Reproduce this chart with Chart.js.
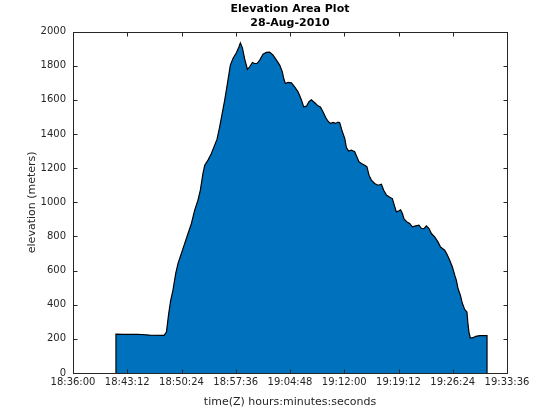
<!DOCTYPE html>
<html>
<head>
<meta charset="utf-8">
<script src="https://cdn.jsdelivr.net/npm/chart.js@4.4.0/dist/chart.umd.min.js"></script>
<style>
  body { margin: 0; background: #fff; }
</style>
</head>
<body>
<canvas id="areaChart" width="560" height="420"></canvas>
<script>
// time stamps (Z) and elevation in meters
const times = [
  "18:41:42", "18:41:42", "18:42:38", "18:44:35", "18:46:11", "18:48:05", "18:48:24", "18:48:42",
  "18:48:58", "18:49:16", "18:49:38", "18:49:56", "18:50:23", "18:50:49", "18:51:16", "18:51:43",
  "18:52:09", "18:52:35", "18:52:54", "18:53:15", "18:53:29", "18:53:55", "18:54:22", "18:54:48",
  "18:55:07", "18:55:28", "18:56:08", "18:56:34", "18:56:53", "18:57:14", "18:57:41", "18:58:02",
  "18:58:13", "18:58:29", "18:58:47", "18:59:09", "18:59:27", "18:59:49", "19:00:07", "19:00:25",
  "19:00:47", "19:01:13", "19:01:40", "19:02:06", "19:02:33", "19:03:00", "19:03:26", "19:03:47",
  "19:03:58", "19:04:11", "19:04:32", "19:04:59", "19:05:25", "19:05:52", "19:06:19", "19:06:37",
  "19:06:59", "19:07:19", "19:07:38", "19:08:05", "19:08:31", "19:08:50", "19:09:11", "19:09:32",
  "19:09:51", "19:10:10", "19:10:30", "19:10:52", "19:11:10", "19:11:24", "19:11:45", "19:12:04",
  "19:12:17", "19:12:35", "19:12:57", "19:13:23", "19:13:41", "19:13:57", "19:14:17", "19:14:43",
  "19:15:01", "19:15:17", "19:15:36", "19:16:02", "19:16:29", "19:16:56", "19:17:14", "19:17:36",
  "19:18:02", "19:18:23", "19:18:42", "19:18:55", "19:19:16", "19:19:29", "19:19:43", "19:19:56",
  "19:20:20", "19:20:41", "19:21:03", "19:21:29", "19:21:55", "19:22:14", "19:22:35", "19:22:54",
  "19:23:15", "19:23:34", "19:24:00", "19:24:26", "19:24:46", "19:25:20", "19:25:38", "19:26:00",
  "19:26:21", "19:26:40", "19:26:53", "19:27:06", "19:27:25", "19:27:41", "19:27:59", "19:28:17",
  "19:28:25", "19:28:33", "19:28:44", "19:29:05", "19:29:27", "19:29:59", "19:30:57", "19:30:57"
];
const elevation = [
  0, 228, 226, 227, 222, 220, 240, 348,
  426, 485, 583, 641, 700, 758, 817, 876,
  954, 1012, 1071, 1169, 1217, 1247, 1286, 1335,
  1370, 1442, 1599, 1716, 1804, 1843, 1876, 1911,
  1934, 1905, 1840, 1778, 1794, 1819, 1813, 1813,
  1833, 1868, 1878, 1880, 1862, 1833, 1804, 1764,
  1725, 1696, 1702, 1700, 1676, 1647, 1599, 1559,
  1563, 1589, 1601, 1583, 1565, 1559, 1530, 1497,
  1475, 1462, 1468, 1462, 1470, 1466, 1413, 1374,
  1321, 1300, 1306, 1296, 1266, 1237, 1227, 1217,
  1208, 1159, 1130, 1110, 1100, 1106, 1071, 1042,
  1030, 1022, 975, 944, 950, 956, 934, 902,
  885, 876, 856, 862, 866, 848, 846, 862,
  846, 817, 797, 768, 739, 719, 696, 660,
  621, 573, 543, 495, 455, 407, 372, 358,
  290, 240, 205, 207, 215, 219, 219, 0
];
const xTicks = ["18:36:00", "18:43:12", "18:50:24", "18:57:36", "19:04:48", "19:12:00", "19:19:12", "19:26:24", "19:33:36"];
const yTicks = [0, 200, 400, 600, 800, 1000, 1200, 1400, 1600, 1800, 2000];

function toSec(t) {
  const [h, m, s] = t.split(":").map(Number);
  return h * 3600 + m * 60 + s;
}
function toClock(v) {
  const pad = (n) => String(n).padStart(2, "0");
  return pad(Math.floor(v / 3600)) + ":" + pad(Math.floor((v % 3600) / 60)) + ":" + pad(v % 60);
}

const points = times.map((t, i) => ({ x: toSec(t), y: elevation[i] }));

// MATLAB style box with inward ticks on all four sides
const boxPlugin = {
  id: "box",
  afterDraw(chart) {
    const { ctx, chartArea: a, scales: { x, y } } = chart;
    const L = Math.round(a.left) + 0.5, R = Math.round(a.right) + 0.5;
    const T = Math.round(a.top) + 0.5, B = Math.round(a.bottom) + 0.5;
    ctx.save();
    ctx.strokeStyle = "#262626";
    ctx.lineWidth = 1;
    ctx.beginPath();
    x.ticks.forEach((t) => {
      const px = Math.round(x.getPixelForValue(t.value)) + 0.5;
      ctx.moveTo(px, B); ctx.lineTo(px, B - 4);
      ctx.moveTo(px, T); ctx.lineTo(px, T + 4);
    });
    y.ticks.forEach((t) => {
      const py = Math.round(y.getPixelForValue(t.value)) + 0.5;
      ctx.moveTo(L, py); ctx.lineTo(L + 4, py);
      ctx.moveTo(R, py); ctx.lineTo(R - 4, py);
    });
    ctx.stroke();
    ctx.strokeRect(L, T, R - L, B - T);
    ctx.restore();
  }
};

const tickFont = { family: "DejaVu Sans", size: 10 };

new Chart(document.getElementById("areaChart"), {
  type: "line",
  data: {
    datasets: [{
      data: points,
      fill: "origin",
      backgroundColor: "#0072BD",
      borderColor: "#000000",
      borderWidth: 1.2,
      pointRadius: 0,
      tension: 0
    }]
  },
  options: {
    responsive: false,
    animation: false,
    layout: { padding: { left: 0, right: 53, top: 0, bottom: 0 } },
    plugins: {
      legend: { display: false },
      tooltip: { enabled: false },
      title: {
        display: true,
        fullSize: false,
        text: ["Elevation Area Plot", "28-Aug-2010"],
        color: "#000",
        font: { family: "DejaVu Sans", size: 11, weight: "bold", lineHeight: 1.3 },
        padding: { top: 2, bottom: 1 }
      }
    },
    scales: {
      x: {
        type: "linear",
        min: toSec(xTicks[0]),
        max: toSec(xTicks[xTicks.length - 1]),
        afterBuildTicks: (s) => { s.ticks = xTicks.map((t) => ({ value: toSec(t) })); },
        afterFit: (s) => { s.height = 47; },
        grid: { display: false, drawTicks: false },
        border: { display: false },
        ticks: {
          autoSkip: false,
          maxRotation: 0,
          padding: 3,
          color: "#262626",
          font: tickFont,
          callback: (v) => toClock(v)
        },
        title: {
          display: true,
          text: "time(Z) hours:minutes:seconds",
          color: "#262626",
          font: { family: "DejaVu Sans", size: 11 },
          padding: { bottom: 11 }
        }
      },
      y: {
        min: 0,
        max: 2000,
        afterBuildTicks: (s) => { s.ticks = yTicks.map((v) => ({ value: v })); },
        afterFit: (s) => { s.width = 73; },
        grid: { display: false, drawTicks: false },
        border: { display: false },
        ticks: { padding: 7, color: "#262626", font: tickFont, callback: (v) => String(v) },
        title: {
          display: true,
          text: "elevation (meters)",
          color: "#262626",
          font: { family: "DejaVu Sans", size: 11 },
          padding: { top: 26 }
        }
      }
    }
  },
  plugins: [boxPlugin]
});
</script>
</body>
</html>
